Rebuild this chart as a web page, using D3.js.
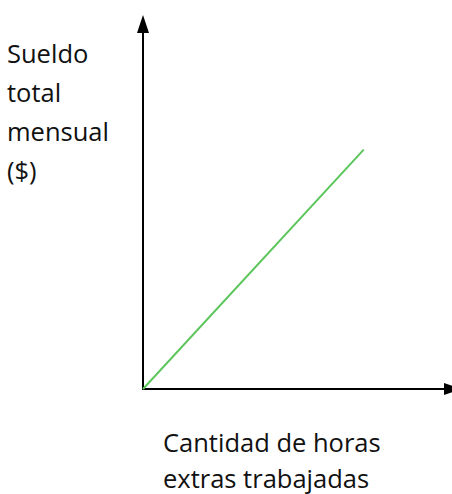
<!DOCTYPE html>
<html><head><meta charset="utf-8">
<script src="https://cdn.jsdelivr.net/npm/d3@7"></script>
<style>html,body{margin:0;padding:0;background:#fff;}svg{display:block;}</style>
</head><body>
<script>
const hours = [0, 10];
const salary = [0, 6.4];
const yLabel = ["Sueldo", "total", "mensual", "($)"];
const xLabel = ["Cantidad de horas", "extras trabajadas"];

const W = 452, H = 494;
const svg = d3.select("body").append("svg").attr("width", W).attr("height", H);
const x = d3.scaleLinear().domain([0, 14]).range([143, 452]);
const y = d3.scaleLinear().domain([0, 10]).range([389, 15]);

// axes
svg.append("line").attr("x1", x(0)).attr("x2", x(0)).attr("y1", y(0) + 1).attr("y2", y(10) + 15)
  .attr("stroke", "#000").attr("stroke-width", 2);
svg.append("path").attr("d", `M${x(0)},${y(10)} L${x(0)-6},${y(10)+18} L${x(0)+6},${y(10)+18} Z`).attr("fill", "#000");
svg.append("line").attr("x1", x(0) - 1).attr("x2", x(14) - 8).attr("y1", y(0)).attr("y2", y(0))
  .attr("stroke", "#000").attr("stroke-width", 2);
svg.append("path").attr("d", `M${x(14)+10},${y(0)} L${x(14)-8},${y(0)-6} L${x(14)-8},${y(0)+6} Z`).attr("fill", "#000");

// line
const data = hours.map((h, i) => ({h, s: salary[i]}));
svg.append("path").datum(data)
  .attr("d", d3.line().x(d => x(d.h)).y(d => y(d.s)))
  .attr("fill", "none").attr("stroke", "#5cc65c").attr("stroke-width", 2);

const font = "'Open Sans', Lato, sans-serif";
svg.append("g").selectAll("text").data(yLabel).join("text")
  .attr("x", 7).attr("y", (d, i) => 63 + i * 39)
  .attr("font-family", font).attr("font-size", 25.5).attr("fill", "#111").text(d => d);
svg.append("g").selectAll("text").data(xLabel).join("text")
  .attr("x", 163).attr("y", (d, i) => 452 + i * 36)
  .attr("font-family", font).attr("font-size", 25.5).attr("fill", "#111").text(d => d);
</script>
</body></html>
